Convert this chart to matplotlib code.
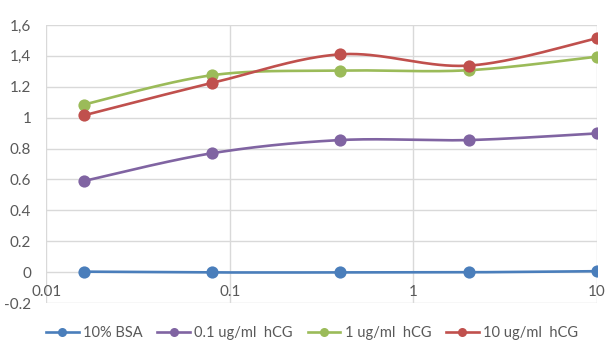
import numpy as np
import matplotlib
matplotlib.use("Agg")
import matplotlib.pyplot as plt
from matplotlib.lines import Line2D

# ---- data ----
conc = [0.016, 0.08, 0.4, 2, 10]
bsa = [0.003, -0.002, -0.002, -0.001, 0.006]
hcg_01 = [0.59, 0.77, 0.855, 0.855, 0.898]
hcg_1 = [1.085, 1.275, 1.305, 1.307, 1.395]
hcg_10 = [1.015, 1.225, 1.41, 1.337, 1.514]
labels = ["10% BSA", "0.1 ug/ml  hCG", "1 ug/ml  hCG", "10 ug/ml  hCG"]
colors = ["#4A7EBB", "#8064A2", "#9BBB59", "#C0504D"]
yticks = [-0.2, 0, 0.2, 0.4, 0.6, 0.8, 1.0, 1.2, 1.4, 1.6]
ytick_labels = ["-0.2", "0", "0.2", "0.4", "0.6", "0.8", "1", "1.2", "1,4", "1,6"]
xticks = [0.01, 0.1, 1, 10]
xtick_labels = ["0.01", "0.1", "1", "10"]

plt.rcParams['font.family'] = ['Lato', 'DejaVu Sans']

def smooth(xs, ys, n=40):
    # Excel-like Catmull-Rom Bezier smoothing in (log10 x, y) space
    P = np.column_stack([np.log10(xs), ys])
    out = []
    m = len(P)
    for i in range(m - 1):
        p0 = P[i - 1] if i > 0 else P[i]
        p1 = P[i]
        p2 = P[i + 1]
        p3 = P[i + 2] if i + 2 < m else P[i + 1]
        c1 = p1 + (p2 - p0) / 6.0
        c2 = p2 - (p3 - p1) / 6.0
        t = np.linspace(0, 1, n)[:, None]
        seg = ((1 - t) ** 3) * p1 + 3 * ((1 - t) ** 2) * t * c1 + 3 * (1 - t) * t ** 2 * c2 + t ** 3 * p2
        out.append(seg if i == 0 else seg[1:])
    pts = np.vstack(out)
    return 10 ** pts[:, 0], pts[:, 1]

fig = plt.figure(figsize=(6.14, 3.6), dpi=100)
ax = fig.add_axes([0.0757, 0.1583, 0.8966, 0.7723])

series = [bsa, hcg_01, hcg_1, hcg_10]
for ys, c in zip(series, colors):
    sx, sy = smooth(conc, ys)
    ax.plot(sx, sy, color=c, lw=1.9, zorder=3, solid_capstyle='round')
    ax.plot(conc, ys, 'o', color=c, ms=8.8, zorder=4, markeredgewidth=0)

ax.set_xscale('log')
ax.set_xlim(0.01, 10)
ax.set_ylim(-0.2, 1.6)
ax.set_yticks(yticks)
ax.set_yticklabels(ytick_labels)
ax.set_xticks(xticks)
ax.set_xticklabels(xtick_labels)
ax.xaxis.set_minor_locator(matplotlib.ticker.NullLocator())

for s in ax.spines.values():
    s.set_visible(False)
ax.spines['bottom'].set_position(('data', 0))

ax.grid(True, which='major', color='#D9D9D9', lw=1.0, zorder=0)
ax.set_axisbelow(True)
ax.tick_params(axis='both', length=0, labelsize=11, labelcolor='#595959')
ax.tick_params(axis='y', pad=11)
ax.tick_params(axis='x', pad=9)

handles = [Line2D([0], [0], color=c, lw=1.9, marker='o', ms=6.5, markeredgewidth=0) for c in colors]
fig.legend(handles, labels, loc='center', bbox_to_anchor=(0.508, 0.075), ncol=4, frameon=False,
           fontsize=10.5, labelcolor='#595959', handlelength=2.25, handletextpad=0.3, columnspacing=1.0)

fig.savefig("out.png", dpi=100)
